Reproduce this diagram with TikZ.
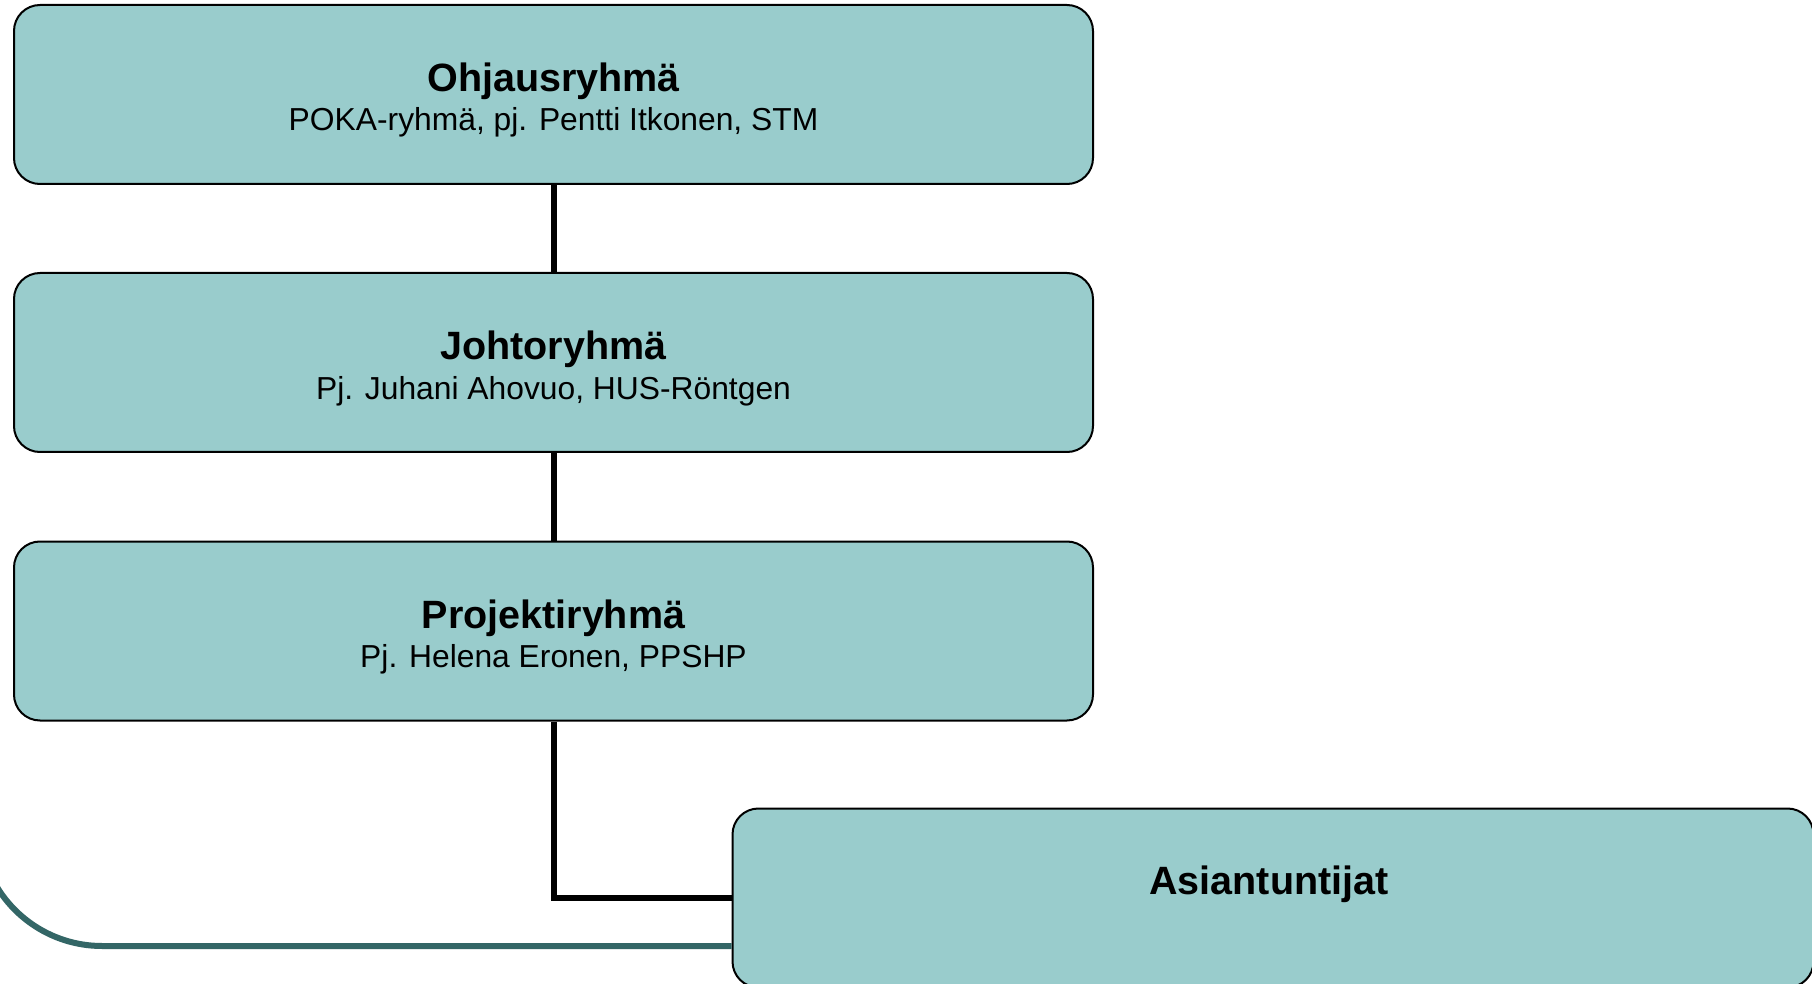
\documentclass[tikz,border=0pt]{standalone}
\usepackage{fontspec}
\setmainfont{Liberation Sans}
\usetikzlibrary{calc}
\definecolor{boxfill}{HTML}{99CCCC}
\definecolor{tealline}{HTML}{336666}
\tikzset{
  orgbox/.style={draw=black, line width=1pt, fill=boxfill, rounded corners=13pt,
    minimum width=539.5pt, minimum height=89.5pt, inner sep=0pt},
  titletext/.style={anchor=base, inner sep=0pt, font=\fontsize{19.75}{24}\selectfont\bfseries},
  subtext/.style={anchor=base, inner sep=0pt, font=\fontsize{15.9}{19}\selectfont},
  conn/.style={draw=black, line width=3pt},
  tealconn/.style={draw=tealline, line width=3pt}
}
\begin{document}
\begin{tikzpicture}[x=0.5pt,y=-0.5pt]
\clip (0,0) rectangle (1812,984);
\fill[white] (0,0) rectangle (1812,984);
% teal background curve
\coordinate (tc) at (102,823);
\coordinate (t0) at ($(tc)+(160:123)$);
% boxes
\node[orgbox] (b1) at (553.5,94.5) {};
\node[orgbox] (b2) at (553.5,362.5) {};
\node[orgbox] (b3) at (553.5,631) {};
\node[orgbox, minimum width=540.5pt] (b4) at (1273,898) {};
\coordinate (t1) at (0,946);
\draw[tealconn] (t0) arc[start angle=160, end angle=90, radius=123] -- (b4.west |- t1);
% connectors
\draw[conn] (b1.south) -- (b2.north);
\draw[conn] (b2.south) -- (b3.north);
\draw[conn] (b3.south) |- (b4.west);
% texts
\node[titletext] (h1) at (553.5,91.5) {Ohjausryhmä};
\node[subtext] (s1) at (553.5,131) {POKA-ryhmä, pj. Pentti Itkonen, STM};
\node[titletext] (h2) at (553.5,360) {Johtoryhmä};
\node[subtext] (s2) at (553.5,399.5) {Pj. Juhani Ahovuo, HUS-Röntgen};
\node[titletext] (h3) at (553.5,628) {Projektiryhmä};
\node[subtext] (s3) at (553.5,667.5) {Pj. Helena Eronen, PPSHP};
\node[titletext] (h4) at (1269,894) {Asiantuntijat};
\end{tikzpicture}
\end{document}
